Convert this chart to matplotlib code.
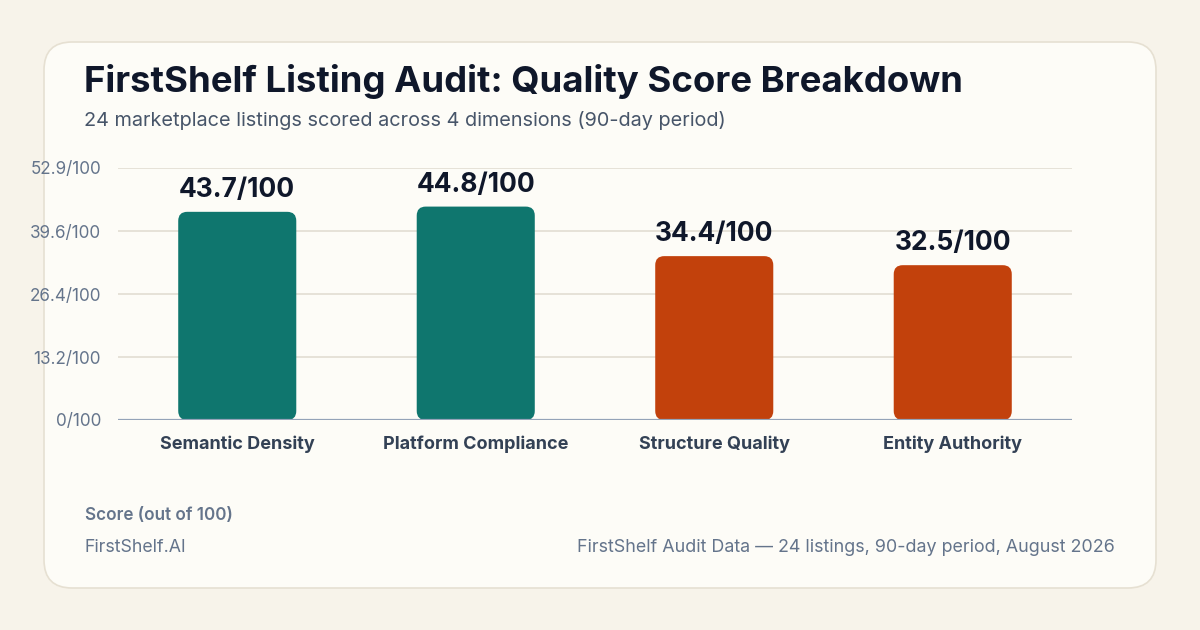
import matplotlib
matplotlib.use("Agg")
import matplotlib.pyplot as plt
from matplotlib.patches import FancyBboxPatch

# ---- data ----
categories = ["Semantic Density", "Platform Compliance", "Structure Quality", "Entity Authority"]
scores = [43.7, 44.8, 34.4, 32.5]
bar_colors = ["#0F766E", "#0F766E", "#C2410C", "#C2410C"]
y_ticks = [0, 13.2, 26.4, 39.6, 52.9]
y_tick_labels = ["0/100", "13.2/100", "26.4/100", "39.6/100", "52.9/100"]
value_labels = ["43.7/100", "44.8/100", "34.4/100", "32.5/100"]

title = "FirstShelf Listing Audit: Quality Score Breakdown"
subtitle = "24 marketplace listings scored across 4 dimensions (90-day period)"
axis_note = "Score (out of 100)"
brand = "FirstShelf.AI"
source = "FirstShelf Audit Data \u2014 24 listings, 90-day period, August 2026"

W, H = 1200, 630
plt.rcParams["font.family"] = ["Inter", "DejaVu Sans"]

fig = plt.figure(figsize=(W / 100, H / 100), dpi=100)
fig.patch.set_facecolor("#F7F3EA")


def fx(x):
    return x / W


def fy(y):
    return 1 - y / H


# card
card = FancyBboxPatch((fx(44), fy(588)), fx(1156) - fx(44), fy(42) - fy(588),
                      boxstyle="round,pad=0,rounding_size=%f" % (28 / W),
                      mutation_aspect=W / H,
                      transform=fig.transFigure, facecolor="#FDFCF7",
                      edgecolor="#E6E0D2", linewidth=1.2, zorder=-10)
fig.patches.append(card)

# axes
ax_l, ax_r, ax_t, ax_b = 118, 1072, 168, 420
ax = fig.add_axes([fx(ax_l), fy(ax_b), fx(ax_r) - fx(ax_l), fy(ax_t) - fy(ax_b)])
ax.set_zorder(1)
ax.set_facecolor("none")
ax.set_xlim(-0.5, len(categories) - 0.5)
ax.set_ylim(0, y_ticks[-1])

# gridlines
for t in y_ticks[1:]:
    ax.axhline(t, color="#E6E2D8", linewidth=1.4, zorder=0)
ax.axhline(0, color="#94A3B8", linewidth=1.6, zorder=3)

# rounded bars
x_per_px = (len(categories)) / (ax_r - ax_l)
y_per_px = y_ticks[-1] / (ax_b - ax_t)
bw = 0.495
rad_px = 9
for i, (v, c) in enumerate(zip(scores, bar_colors)):
    p = FancyBboxPatch((i - bw / 2, 0), bw, v,
                       boxstyle="round,pad=0,rounding_size=%f" % (rad_px * x_per_px),
                       mutation_aspect=y_per_px / x_per_px,
                       facecolor=c, edgecolor="none", zorder=2)
    ax.add_patch(p)
    ax.annotate(value_labels[i], (i, v), xytext=(0, 15), textcoords="offset pixels",
                ha="center", va="baseline", fontsize=19, fontweight="bold",
                color="#0F172A", zorder=4)

for s in ax.spines.values():
    s.set_visible(False)
ax.set_yticks(y_ticks)
ax.set_yticklabels(y_tick_labels)
ax.tick_params(axis="y", length=0, pad=12.2, labelsize=12.3, labelcolor="#64748B")
ax.set_xticks(range(len(categories)))
ax.set_xticklabels(categories)
ax.tick_params(axis="x", length=0, pad=11.5, labelsize=13, labelcolor="#334155")
for lbl in ax.get_xticklabels():
    lbl.set_fontweight("bold")

# texts
fig.text(fx(84), fy(92), title, fontsize=26.3, fontweight="bold", color="#0F172A",
         ha="left", va="baseline")
fig.text(fx(84), fy(126), subtitle, fontsize=14.3, color="#475569",
         ha="left", va="baseline")
fig.text(fx(85), fy(520), axis_note, fontsize=12.3, fontweight="semibold", color="#64748B",
         ha="left", va="baseline")
fig.text(fx(85), fy(552), brand, fontsize=12.8, color="#64748B",
         ha="left", va="baseline")
fig.text(fx(1115), fy(552), source, fontsize=12.9, color="#64748B",
         ha="right", va="baseline")

fig.savefig("out.png", dpi=100, facecolor=fig.get_facecolor())
